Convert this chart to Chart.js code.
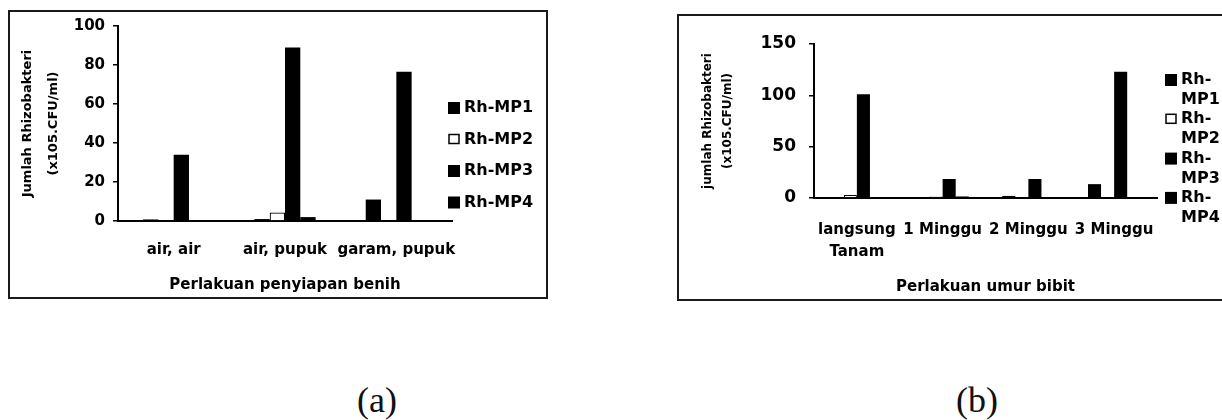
<!DOCTYPE html>
<html>
<head>
<meta charset="utf-8">
<script src="https://cdn.jsdelivr.net/npm/chart.js@4.4.1/dist/chart.umd.min.js"></script>
<style>
    html, body { margin: 0; padding: 0; background: #fff; }
    body { width: 1222px; height: 420px; position: relative; overflow: hidden; }
    .frame { position: absolute; border: 2px solid #1a1a1a; box-sizing: border-box; }
    canvas { position: absolute; }
    .cap { position: absolute; font-family: "Liberation Serif", serif; font-size: 36px; color: #111; transform: translateX(-50%); }
</style>
</head>
<body>
<div class="frame" style="left:8px;top:10px;width:540px;height:289px"></div>
<div class="frame" style="left:677px;top:14px;width:560px;height:287px"></div>
<canvas id="chartA" width="560" height="310" style="left:0;top:0"></canvas>
<canvas id="chartB" width="562" height="310" style="left:660px;top:0"></canvas>
<div class="cap" style="left:377px;top:379px">(a)</div>
<div class="cap" style="left:977px;top:379px">(b)</div>
<script>
// Series shared by both panels
const seriesNames = ['Rh-MP1', 'Rh-MP2', 'Rh-MP3', 'Rh-MP4'];
const seriesFill = ['#000', '#fff', '#000', '#000'];

// Panel (a): seed preparation treatment
const catsA = ['air, air', 'air, pupuk', 'garam, pupuk'];
const mp1A = [0.8, 1, 11];
const mp2A = [0, 4.3, 0.5];
const mp3A = [34, 89, 76.5];
const mp4A = [0.4, 2, 0.3];
const yTicksA = [0, 20, 40, 60, 80, 100];

// Panel (b): seedling age treatment
const catsB = [['langsung', 'Tanam'], '1 Minggu', '2 Minggu', '3 Minggu'];
const mp1B = [1, 0.5, 2, 13.5];
const mp2B = [3, 1.5, 0.5, 0.5];
const mp3B = [101, 18.5, 18.5, 123];
const mp4B = [0.3, 1.5, 0.3, 0.5];
const yTicksB = [0, 50, 100, 150];

const FONT = '"DejaVu Sans", sans-serif';
Chart.defaults.font.family = FONT;
Chart.defaults.font.weight = 'bold';
Chart.defaults.color = '#000';

// Legend drawn at the right of the plot (keeps the scanned layout)
const sideLegend = {
    id: 'sideLegend',
    afterDraw(chart, args, opts) {
        const ctx = chart.ctx;
        ctx.save();
        ctx.font = 'bold ' + opts.size + 'px ' + FONT;
        ctx.textBaseline = 'middle';
        chart.data.datasets.forEach((ds, i) => {
            const cy = opts.y + i * opts.gap;
            const b = opts.box;
            if (ds.backgroundColor === '#fff') {
                ctx.fillStyle = '#fff';
                ctx.strokeStyle = '#000';
                ctx.lineWidth = 1.5;
                ctx.fillRect(opts.x + 1, cy - b / 2 + 1, b - 2, b - 3);
                ctx.strokeRect(opts.x + 1, cy - b / 2 + 1, b - 2, b - 3);
            } else {
                ctx.fillStyle = ds.backgroundColor;
                ctx.fillRect(opts.x, cy - b / 2, b, b);
            }
            ctx.fillStyle = '#000';
            const lines = opts.wrap ? [ds.label.slice(0, 3), ds.label.slice(3)] : [ds.label];
            lines.forEach((t, k) => ctx.fillText(t, opts.x + b + 4, cy + k * opts.lineGap));
        });
        ctx.restore();
    }
};

function makeDatasets(values) {
    return values.map((v, i) => ({
        label: seriesNames[i],
        data: v,
        backgroundColor: seriesFill[i],
        borderColor: '#000',
        borderWidth: i === 1 ? 1.2 : 0
    }));
}

function makeChart(id, cfg) {
    return new Chart(document.getElementById(id).getContext('2d'), {
        type: 'bar',
        data: { labels: cfg.labels, datasets: makeDatasets(cfg.values) },
        options: {
            responsive: false,
            animation: false,
            devicePixelRatio: 1,
            layout: { padding: cfg.padding, autoPadding: false },
            datasets: { bar: { barPercentage: 1, categoryPercentage: cfg.catPct } },
            scales: {
                x: {
                    grid: { display: false, drawTicks: false },
                    border: { display: true, color: '#000', width: 2 },
                    ticks: {
                        autoSkip: false, maxRotation: 0, minRotation: 0,
                        padding: cfg.xPad,
                        font: { size: 15, weight: 'bold', lineHeight: cfg.xLine }
                    },
                    title: {
                        display: true, text: cfg.xTitle,
                        font: { size: 15, weight: 'bold' },
                        padding: { top: 0, bottom: cfg.xTitlePad }
                    },
                    afterFit: s => { s.height = cfg.xHeight; }
                },
                y: {
                    min: cfg.yTicks[0],
                    max: cfg.yTicks[cfg.yTicks.length - 1],
                    ticks: {
                        stepSize: cfg.yTicks[1] - cfg.yTicks[0],
                        padding: cfg.yPad,
                        font: { size: cfg.yFont, weight: 'bold' }
                    },
                    grid: { drawOnChartArea: false, drawTicks: true, tickLength: 5, color: '#000', lineWidth: 1.5 },
                    border: { display: true, color: '#000', width: 2 },
                    title: {
                        display: true, text: cfg.yTitle,
                        font: { size: cfg.yTitleSize, weight: 'bold', lineHeight: cfg.yTitleLine },
                        padding: { top: cfg.yTitlePad, bottom: 0 }
                    },
                    afterFit: s => { s.width = cfg.yWidth; }
                }
            },
            plugins: {
                legend: { display: false },
                tooltip: { enabled: false },
                sideLegend: cfg.legend
            }
        },
        plugins: [sideLegend]
    });
}

makeChart('chartA', {
    labels: catsA,
    values: [mp1A, mp2A, mp3A, mp4A],
    yTicks: yTicksA,
    padding: { left: 0, right: 108, top: 26, bottom: 0 },
    catPct: 0.55,
    xPad: 20, xLine: 1.2, xHeight: 89, xTitlePad: 16,
    xTitle: 'Perlakuan penyiapan benih',
    yWidth: 118, yPad: 8, yFont: 15,
    yTitle: ['Jumlah Rhizobakteri', '(x105.CFU/ml)'],
    yTitleSize: 13, yTitleLine: 2, yTitlePad: 15,
    legend: { x: 448, y: 108, gap: 31.5, box: 12, size: 16, wrap: false, lineGap: 0 }
});

makeChart('chartB', {
    labels: catsB,
    values: [mp1B, mp2B, mp3B, mp4B],
    yTicks: yTicksB,
    padding: { left: 0, right: 65, top: 44, bottom: 0 },
    catPct: 0.61,
    xPad: 21, xLine: 1.45, xHeight: 112, xTitlePad: 14,
    xTitle: 'Perlakuan umur bibit',
    yWidth: 154, yPad: 13, yFont: 17,
    yTitle: ['jumlah Rhizobakteri', '(x105.CFU/ml)'],
    yTitleSize: 12, yTitleLine: 1.67, yTitlePad: 38,
    legend: { x: 505, y: 80, gap: 39.3, box: 12, size: 16, wrap: true, lineGap: 20 }
});
</script>
</body>
</html>
